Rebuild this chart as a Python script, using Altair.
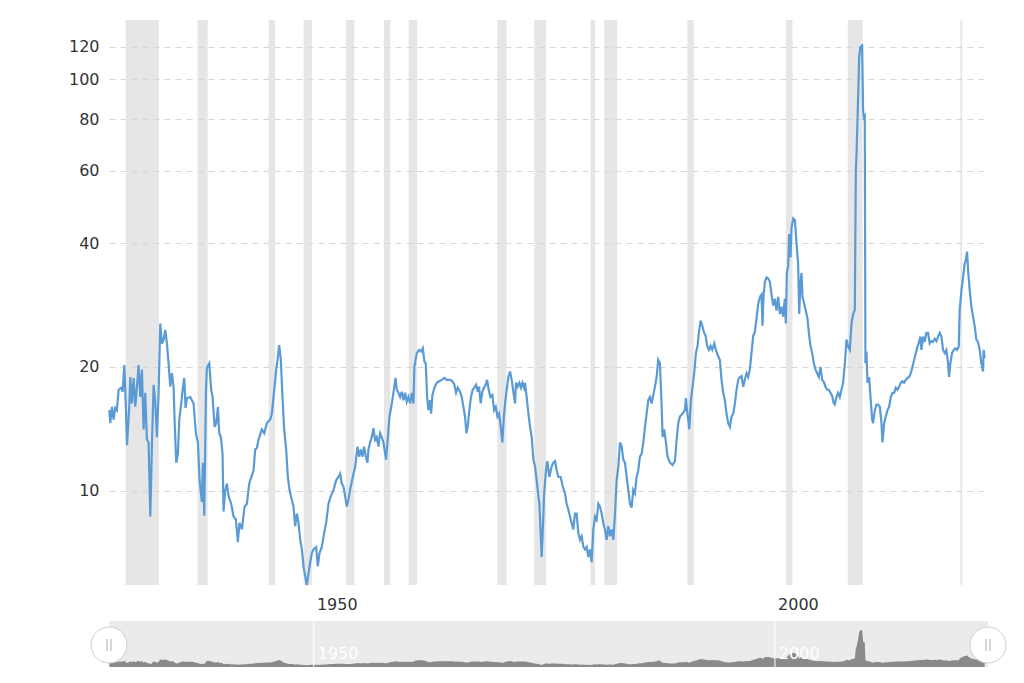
import altair as alt
import pandas as pd

# ---- data (decimal years, PE ratio) ----
years = [
    1927.83, 1927.94, 1928.12, 1928.30, 1928.48, 1928.66, 1928.84, 1929.13, 1929.28, 1929.46,
    1929.64, 1929.75, 1930.00, 1930.11, 1930.29, 1930.47, 1930.65, 1930.83, 1931.01, 1931.19,
    1931.37, 1931.55, 1931.73, 1931.91, 1932.09, 1932.28, 1932.46, 1932.64, 1932.82, 1933.00,
    1933.18, 1933.36, 1933.54, 1933.72, 1933.90, 1934.08, 1934.26, 1934.44, 1934.62, 1934.80,
    1934.91, 1935.09, 1935.27, 1935.42, 1935.63, 1935.78, 1935.96, 1936.10, 1936.25, 1936.61,
    1936.97, 1937.22, 1937.44, 1937.62, 1937.87, 1937.98, 1938.13, 1938.31, 1938.41, 1938.67,
    1938.88, 1939.03, 1939.25, 1939.43, 1939.61, 1939.75, 1939.93, 1940.11, 1940.22, 1940.40,
    1940.58, 1940.76, 1941.05, 1941.30, 1941.56, 1941.77, 1941.95, 1942.21, 1942.50, 1942.75,
    1943.00, 1943.29, 1943.47, 1943.65, 1943.83, 1944.01, 1944.37, 1944.63, 1944.92, 1945.28,
    1945.46, 1945.64, 1945.93, 1946.07, 1946.25, 1946.43, 1946.61, 1946.79, 1947.01, 1947.19,
    1947.37, 1947.62, 1947.80, 1947.99, 1948.17, 1948.35, 1948.53, 1948.71, 1948.89, 1949.07,
    1949.25, 1949.43, 1949.61, 1949.79, 1949.97, 1950.26, 1950.44, 1950.62, 1950.87, 1951.13,
    1951.34, 1951.60, 1951.85, 1952.14, 1952.43, 1952.68, 1952.86, 1953.04, 1953.22, 1953.40,
    1953.58, 1953.76, 1953.94, 1954.23, 1954.49, 1954.74, 1954.92, 1955.10, 1955.28, 1955.46,
    1955.64, 1955.82, 1955.93, 1956.11, 1956.29, 1956.47, 1956.65, 1956.83, 1957.01, 1957.19,
    1957.37, 1957.56, 1957.74, 1957.84, 1957.99, 1958.21, 1958.46, 1958.64, 1958.86, 1959.00,
    1959.18, 1959.36, 1959.54, 1959.72, 1959.90, 1960.08, 1960.26, 1960.45, 1960.63, 1960.81,
    1960.91, 1961.17, 1961.42, 1961.64, 1961.82, 1962.00, 1962.14, 1962.29, 1962.43, 1962.61,
    1962.72, 1962.87, 1963.08, 1963.33, 1963.59, 1963.88, 1964.16, 1964.42, 1964.78, 1965.03,
    1965.25, 1965.43, 1965.61, 1965.86, 1966.04, 1966.22, 1966.40, 1966.55, 1966.69, 1966.87,
    1967.05, 1967.23, 1967.41, 1967.60, 1967.78, 1967.92, 1968.10, 1968.28, 1968.46, 1968.64,
    1968.79, 1968.97, 1969.15, 1969.37, 1969.55, 1969.73, 1969.91, 1970.09, 1970.27, 1970.45,
    1970.59, 1970.74, 1970.92, 1971.10, 1971.28, 1971.46, 1971.64, 1971.82, 1971.93, 1972.11,
    1972.29, 1972.47, 1972.62, 1972.80, 1972.90, 1973.08, 1973.27, 1973.45, 1973.63, 1973.81,
    1973.99, 1974.17, 1974.35, 1974.46, 1974.57, 1974.71, 1974.89, 1974.96, 1975.18, 1975.32,
    1975.54, 1975.79, 1975.97, 1976.16, 1976.34, 1976.52, 1976.77, 1976.99, 1977.24, 1977.42,
    1977.60, 1977.78, 1977.96, 1978.14, 1978.32, 1978.50, 1978.68, 1978.86, 1979.04, 1979.23,
    1979.41, 1979.59, 1979.77, 1979.95, 1980.13, 1980.31, 1980.49, 1980.67, 1980.85, 1981.03,
    1981.21, 1981.39, 1981.57, 1981.75, 1981.93, 1982.11, 1982.29, 1982.48, 1982.66, 1982.84,
    1983.02, 1983.20, 1983.38, 1983.56, 1983.74, 1983.92, 1984.10, 1984.28, 1984.46, 1984.64,
    1984.82, 1985.00, 1985.18, 1985.36, 1985.55, 1985.73, 1985.91, 1986.09, 1986.27, 1986.45,
    1986.63, 1986.81, 1986.99, 1987.17, 1987.35, 1987.53, 1987.71, 1987.82, 1988.00, 1988.18,
    1988.36, 1988.61, 1988.90, 1989.16, 1989.34, 1989.52, 1989.70, 1989.99, 1990.24, 1990.35,
    1990.42, 1990.60, 1990.71, 1990.89, 1991.03, 1991.25, 1991.43, 1991.61, 1991.76, 1991.94,
    1992.12, 1992.30, 1992.48, 1992.66, 1992.84, 1993.02, 1993.20, 1993.42, 1993.60, 1993.78,
    1994.03, 1994.21, 1994.39, 1994.57, 1994.75, 1994.93, 1995.12, 1995.30, 1995.48, 1995.66,
    1995.84, 1996.02, 1996.20, 1996.38, 1996.56, 1996.74, 1996.92, 1997.10, 1997.28, 1997.46,
    1997.64, 1997.82, 1998.00, 1998.19, 1998.37, 1998.55, 1998.65, 1998.76, 1998.91, 1999.09,
    1999.27, 1999.45, 1999.63, 1999.81, 1999.99, 2000.17, 2000.35, 2000.53, 2000.71, 2000.89,
    2001.07, 2001.18, 2001.29, 2001.44, 2001.54, 2001.69, 2001.80, 2001.98, 2002.16, 2002.34,
    2002.52, 2002.63, 2002.77, 2002.88, 2002.99, 2003.17, 2003.35, 2003.53, 2003.67, 2003.85,
    2004.04, 2004.22, 2004.40, 2004.58, 2004.76, 2004.94, 2005.12, 2005.30, 2005.48, 2005.66,
    2005.84, 2006.02, 2006.20, 2006.38, 2006.49, 2006.67, 2006.85, 2007.03, 2007.21, 2007.39,
    2007.58, 2007.76, 2007.94, 2008.12, 2008.30, 2008.48, 2008.66, 2008.77, 2008.84, 2009.02,
    2009.13, 2009.27, 2009.45, 2009.56, 2009.67, 2009.74, 2009.81, 2009.92, 2010.03, 2010.21,
    2010.36, 2010.54, 2010.64, 2010.83, 2011.01, 2011.19, 2011.37, 2011.55, 2011.66, 2011.84,
    2012.02, 2012.20, 2012.38, 2012.56, 2012.74, 2012.92, 2013.10, 2013.28, 2013.46, 2013.64,
    2013.82, 2014.00, 2014.19, 2014.37, 2014.55, 2014.73, 2014.91, 2015.09, 2015.27, 2015.45,
    2015.63, 2015.77, 2015.88, 2016.06, 2016.24, 2016.42, 2016.60, 2016.78, 2016.96, 2017.15,
    2017.33, 2017.51, 2017.69, 2017.87, 2018.05, 2018.23, 2018.41, 2018.59, 2018.77, 2018.88,
    2019.02, 2019.20, 2019.38, 2019.56, 2019.74, 2019.93, 2020.03, 2020.22, 2020.40, 2020.58,
    2020.68, 2020.83, 2020.97, 2021.12, 2021.30, 2021.48, 2021.66, 2021.84, 2022.02, 2022.20,
    2022.38, 2022.56, 2022.63, 2022.74,
]

pe = [
    15.7, 14.6, 16.0, 14.9, 15.9, 15.7, 17.6, 17.8, 17.4, 20.2,
    15.7, 12.9, 16.0, 18.9, 16.3, 18.8, 16.0, 17.9, 20.2, 16.9,
    19.7, 14.1, 17.3, 13.3, 13.1, 8.66, 13.1, 18.1, 16.3, 13.5,
    17.3, 25.5, 22.8, 23.3, 24.6, 22.8, 20.4, 17.9, 19.3, 17.9,
    14.9, 11.7, 12.3, 14.9, 16.3, 17.6, 18.8, 15.9, 16.8, 16.9,
    16.3, 13.8, 13.1, 10.6, 9.4, 11.7, 8.7, 17.3, 19.9, 20.4,
    17.6, 16.9, 14.3, 14.6, 16.0, 13.8, 13.5, 12.3, 8.9, 10.0,
    10.4, 9.7, 9.3, 8.66, 8.5, 7.5, 8.35, 8.05, 9.15, 9.3,
    10.4, 10.9, 11.2, 12.6, 12.7, 13.3, 14.1, 13.8, 14.6, 14.9,
    15.4, 16.9, 19.7, 20.8, 22.6, 20.8, 16.9, 14.1, 12.6, 10.8,
    10.05, 9.5, 9.15, 8.2, 8.8, 8.35, 7.6, 7.2, 6.55, 6.2,
    5.9, 6.3, 6.7, 7.05, 7.2, 7.3, 6.55, 7.05, 7.3, 7.9,
    8.35, 9.3, 9.7, 10.05, 10.6, 10.8, 11.0, 10.4, 10.25, 9.7,
    9.15, 9.5, 10.05, 10.8, 11.45, 12.8, 12.1, 12.6, 12.1, 12.8,
    12.1, 11.7, 12.6, 13.1, 13.5, 14.2, 13.3, 13.5, 12.8, 13.8,
    13.5, 13.1, 12.3, 11.9, 13.1, 15.15, 16.3, 17.3, 18.8, 17.6,
    17.3, 16.9, 17.4, 16.6, 17.3, 16.45, 16.9, 16.3, 17.3, 16.3,
    20.0, 21.6, 22.0, 21.8, 22.2, 20.6, 20.4, 16.9, 15.7, 16.6,
    15.4, 17.1, 17.8, 18.3, 18.45, 18.6, 18.8, 18.6, 18.6, 18.45,
    18.1, 17.3, 17.8, 17.4, 16.9, 16.0, 15.15, 13.8, 14.3, 15.7,
    16.9, 17.6, 17.8, 18.1, 17.4, 17.9, 16.3, 17.4, 17.8, 18.1,
    18.6, 17.6, 16.9, 17.1, 15.7, 16.0, 15.15, 15.4, 14.3, 13.1,
    14.9, 16.3, 17.6, 18.9, 19.5, 18.6, 17.4, 16.3, 18.3, 17.9,
    18.3, 17.8, 18.3, 17.8, 18.3, 16.9, 15.4, 14.3, 13.5, 11.9,
    11.45, 10.6, 9.7, 9.3, 8.2, 6.9, 8.65, 9.7, 11.2, 11.8,
    10.8, 11.45, 11.7, 11.8, 11.2, 10.8, 10.8, 10.25, 9.85, 9.3,
    9.0, 8.65, 8.35, 8.05, 8.8, 8.8, 7.9, 7.6, 7.75, 7.3,
    7.2, 7.3, 6.9, 7.2, 6.7, 8.05, 8.65, 8.5, 9.3, 9.15,
    8.8, 8.35, 8.05, 7.6, 8.2, 7.75, 8.05, 7.6, 8.8, 10.6,
    11.45, 13.1, 12.8, 11.9, 11.7, 10.8, 10.05, 9.3, 9.1, 10.05,
    9.85, 10.8, 11.2, 12.1, 12.3, 13.1, 14.3, 15.4, 16.6, 16.9,
    16.3, 17.1, 17.9, 18.9, 20.8, 20.4, 16.3, 13.5, 14.1, 13.1,
    12.1, 11.7, 11.55, 11.8, 13.3, 14.6, 15.15, 15.4, 15.7, 16.8,
    16.0, 14.9, 14.1, 16.6, 17.6, 19.3, 21.6, 22.5, 24.3, 25.9,
    25.2, 24.3, 23.8, 22.5, 22.0, 22.5, 22.0, 22.8, 22.0, 21.4,
    20.8, 18.6, 17.3, 16.6, 15.4, 14.6, 14.3, 15.15, 15.4, 16.3,
    17.6, 18.6, 18.9, 19.0, 17.9, 18.6, 19.3, 18.9, 19.7, 21.6,
    23.8, 24.3, 26.2, 28.5, 29.6, 30.0, 25.2, 29.6, 32.2, 33.0,
    32.8, 32.2, 30.0, 28.2, 29.3, 27.4, 29.6, 26.9, 28.0, 26.5,
    29.3, 25.5, 33.8, 35.3, 42.1, 36.9, 43.7, 45.9, 45.5, 40.0,
    35.3, 26.9, 32.0, 33.8, 29.6, 28.5, 27.4, 26.2, 24.3, 22.5,
    21.6, 20.4, 19.7, 19.3, 18.9, 20.0, 18.6, 18.4, 17.9, 17.6,
    17.6, 17.3, 17.0, 16.3, 16.2, 16.9, 17.3, 16.9, 17.6, 18.3,
    20.4, 23.3, 22.4, 22.0, 25.5, 26.9, 27.5, 60.0, 65.0, 90.6,
    113.3, 119.9, 120.8, 84.1, 79.6, 82.6, 20.4, 21.8, 18.3, 18.9,
    16.9, 14.9, 14.6, 15.7, 16.2, 16.2, 16.0, 14.6, 13.1, 14.6,
    15.15, 15.7, 16.0, 16.9, 17.3, 17.3, 17.8, 17.6, 17.9, 18.3,
    18.45, 18.3, 18.6, 18.8, 18.9, 19.3, 20.0, 20.8, 21.6, 22.4,
    23.0, 23.7, 22.0, 23.7, 23.0, 24.2, 24.2, 22.8, 23.1, 23.0,
    23.4, 23.1, 23.7, 24.2, 23.7, 22.0, 21.6, 22.0, 20.4, 18.9,
    20.4, 21.6, 22.0, 22.2, 22.0, 22.4, 27.5, 30.7, 33.1, 35.7,
    36.2, 38.1, 33.7, 30.7, 28.0, 26.5, 25.1, 23.3, 23.0, 22.0,
    20.4, 19.5, 22.0, 21.0,
]

# recession periods (shaded bands)
rec_start = [1929.6, 1937.4, 1945.1, 1948.9, 1953.5, 1957.6, 1960.3, 1969.9,
             1973.9, 1980.0, 1981.5, 1990.5, 2001.2, 2007.9, 2020.1]
rec_end = [1933.2, 1938.5, 1945.8, 1949.8, 1954.4, 1958.3, 1961.2, 1970.9,
           1975.2, 1980.5, 1982.9, 1991.2, 2001.9, 2009.5, 2020.3]

y_ticks = [10, 20, 40, 60, 80, 100, 120]
x_ticks = [1950, 2000]
nav_labels = ["1950", "2000"]
x_range = [1927.8, 2023.1]

# ---- layout constants ----
W, H = 879, 647          # full layered area (main plot + navigator)
MAIN_H = 565             # main plot height
NAV_TOP, NAV_BOT = 601, 647
HANDLE_Y = 625
FONT = "DejaVu Sans"

df = pd.DataFrame({"year": years, "pe": pe})
rec = pd.DataFrame({"start": rec_start, "end": rec_end})
nav_ticks = pd.DataFrame({"year": x_ticks, "label": nav_labels})
nav_span = pd.DataFrame({"start": [x_range[0]], "end": [x_range[1]]})
handles = pd.DataFrame({"year": x_range})

xscale = alt.Scale(domain=x_range, nice=False, zero=False)

bands = alt.Chart(rec).mark_rect(color="#d6d6d6", opacity=0.6).encode(
    x=alt.X("start:Q", scale=xscale, title=None),
    x2="end:Q",
    y=alt.value(0),
    y2=alt.value(MAIN_H),
)

line = alt.Chart(df).mark_line(color="#5b9bd5", strokeWidth=2.2).encode(
    x=alt.X(
        "year:Q", scale=xscale, title=None,
        axis=alt.Axis(values=x_ticks, format="d", labelOffset=23, offset=MAIN_H - H,
                      ticks=False, domain=False, grid=False, labelPadding=11,
                      labelFontSize=16, labelFont=FONT, labelColor="#333333"),
    ),
    y=alt.Y(
        "pe:Q", title=None,
        scale=alt.Scale(type="log", domain=[5.9, 139.4], range=[MAIN_H, 0], nice=False),
        axis=alt.Axis(values=y_ticks, format="d", grid=True, gridDash=[6, 5],
                      gridColor="#d6d6d6", gridWidth=1, ticks=False, domain=False,
                      labelPadding=10, labelFontSize=16, labelFont=FONT,
                      labelColor="#333333", labelOverlap=False),
    ),
)

nav_bg = alt.Chart(nav_span).mark_rect(color="#ebebeb").encode(
    x=alt.X("start:Q", scale=xscale, title=None),
    x2="end:Q",
    y=alt.value(NAV_TOP),
    y2=alt.value(NAV_BOT),
)

nav_area = alt.Chart(df).mark_area(color="#8a8a8a").encode(
    x=alt.X("year:Q", scale=xscale, title=None),
    y=alt.Y("pe:Q", title=None, axis=None,
            scale=alt.Scale(domain=[0, 150], range=[NAV_BOT, NAV_TOP], nice=False)),
)

nav_grid = alt.Chart(nav_ticks).mark_rule(color="white", strokeWidth=1).encode(
    x=alt.X("year:Q", scale=xscale, title=None),
    y=alt.value(NAV_TOP),
    y2=alt.value(NAV_BOT),
)

nav_text = alt.Chart(nav_ticks).mark_text(
    color="white", align="left", baseline="middle", dx=4, fontSize=16, font=FONT
).encode(
    x=alt.X("year:Q", scale=xscale, title=None),
    y=alt.value(634),
    text="label:N",
)

handle_circ = alt.Chart(handles).mark_circle(
    size=1296, color="white", opacity=1, stroke="#cfcfcf", strokeWidth=1
).encode(
    x=alt.X("year:Q", scale=xscale, title=None),
    y=alt.value(HANDLE_Y),
)

handle_bar_l = alt.Chart(handles).mark_tick(
    orient="vertical", color="#b0b0b0", size=12, thickness=1, xOffset=-2, opacity=1
).encode(
    x=alt.X("year:Q", scale=xscale, title=None),
    y=alt.value(HANDLE_Y),
)

handle_bar_r = alt.Chart(handles).mark_tick(
    orient="vertical", color="#b0b0b0", size=12, thickness=1, xOffset=2, opacity=1
).encode(
    x=alt.X("year:Q", scale=xscale, title=None),
    y=alt.value(HANDLE_Y),
)

chart = alt.layer(
    bands, line, nav_bg, nav_area, nav_grid, nav_text,
    handle_circ, handle_bar_l, handle_bar_r
).resolve_scale(y="independent").properties(
    width=W, height=H,
    autosize=alt.AutoSizeParams(type="none"),
    padding={"left": 109, "top": 20, "right": 36, "bottom": 16},
    background="white",
).configure_view(stroke=None)

chart.save("out.html", embed_options={"renderer": "svg", "actions": False})
